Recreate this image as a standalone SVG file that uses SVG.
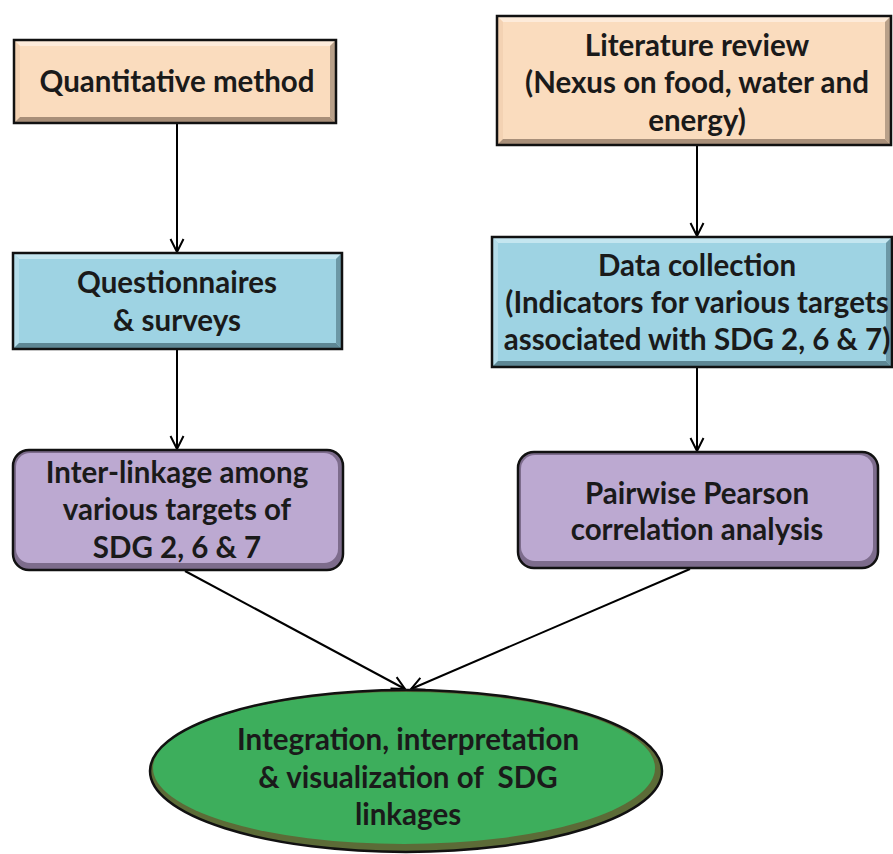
<svg xmlns="http://www.w3.org/2000/svg" width="893" height="854" viewBox="0 0 893 854">
  <defs>
    <style>
      .lbl { font-family: Lato, "Open Sans", "Liberation Sans", sans-serif; font-weight: bold; font-size: 29.5px; fill: #1a1a1a; text-anchor: middle; white-space: pre; }
      .edge { stroke: #000; stroke-width: 2; fill: none; marker-end: url(#arrow); }
      .frame { fill: none; stroke: #111; stroke-width: 2.5; }
    </style>
    <marker id="arrow" viewBox="0 0 16 16" refX="14" refY="8" markerWidth="16" markerHeight="16" markerUnits="userSpaceOnUse" orient="auto">
      <path d="M1,1.5 L14,8 L1,14.5" fill="none" stroke="#000" stroke-width="2"/>
    </marker>
  </defs>
  <rect width="893" height="854" fill="#fff"/>

  <!-- connectors -->
  <g id="connectors">
    <line class="edge" x1="177" y1="124" x2="177" y2="252"/>
    <line class="edge" x1="177" y1="350" x2="177" y2="449"/>
    <line class="edge" x1="697" y1="146" x2="697" y2="236"/>
    <line class="edge" x1="697" y1="368" x2="697" y2="451"/>
    <line class="edge" x1="185" y1="571" x2="405" y2="689"/>
    <line class="edge" x1="690" y1="569" x2="411" y2="689"/>
  </g>

  <!-- bevelled rectangle: Quantitative method -->
  <g id="quantitative-method">
    <rect x="14" y="40" width="322" height="83" fill="#FADCBE"/>
    <polygon points="14,40 336,40 330,46 20,46" fill="#FDEBDA"/>
    <polygon points="14,40 20,46 20,117 14,123" fill="#F3D2B3"/>
    <polygon points="336,40 336,123 330,117 330,46" fill="#B8A089"/>
    <polygon points="14,123 336,123 330,117 20,117" fill="#A88F79"/>
    <rect class="frame" x="14" y="40" width="322" height="83"/>
    <text class="lbl" x="177" y="92">Quantitative method</text>
  </g>

  <g id="literature-review">
    <rect x="497" y="16" width="394" height="129" fill="#FADCBE"/>
    <polygon points="497,16 891,16 885,22 503,22" fill="#FDEBDA"/>
    <polygon points="497,16 503,22 503,139 497,145" fill="#F3D2B3"/>
    <polygon points="891,16 891,145 885,139 885,22" fill="#B8A089"/>
    <polygon points="497,145 891,145 885,139 503,139" fill="#A88F79"/>
    <rect class="frame" x="497" y="16" width="394" height="129"/>
    <text class="lbl" x="697" y="56">Literature review</text>
    <text class="lbl" x="697" y="93">(Nexus on food, water and</text>
    <text class="lbl" x="697" y="131">energy)</text>
  </g>

  <g id="questionnaires">
    <rect x="13" y="253" width="329" height="96" fill="#9ED3E3"/>
    <polygon points="13,253 342,253 336,259 19,259" fill="#C4E6F0"/>
    <polygon points="13,253 19,259 19,343 13,349" fill="#B4DDEA"/>
    <polygon points="342,253 342,349 336,343 336,259" fill="#6C98A6"/>
    <polygon points="13,349 342,349 336,343 19,343" fill="#5E8794"/>
    <rect class="frame" x="13" y="253" width="329" height="96"/>
    <text class="lbl" x="177" y="293">Questionnaires</text>
    <text class="lbl" x="177" y="331">&amp; surveys</text>
  </g>

  <g id="data-collection">
    <rect x="492" y="237" width="400" height="130" fill="#9ED3E3"/>
    <polygon points="492,237 892,237 886,243 498,243" fill="#C4E6F0"/>
    <polygon points="492,237 498,243 498,361 492,367" fill="#B4DDEA"/>
    <polygon points="892,237 892,367 886,361 886,243" fill="#6C98A6"/>
    <polygon points="492,367 892,367 886,361 498,361" fill="#5E8794"/>
    <rect class="frame" x="492" y="237" width="400" height="130"/>
    <text class="lbl" x="697" y="276">Data collection</text>
    <text class="lbl" x="697" y="313">(Indicators for various targets</text>
    <text class="lbl" x="697" y="350">associated with SDG 2, 6 &amp; 7)</text>
  </g>

  <!-- rounded boxes -->
  <g id="inter-linkage">
    <rect x="13" y="450" width="330" height="120" rx="16" fill="#7D6C8C"/>
    <rect x="16" y="453" width="322" height="110" rx="14" fill="#BCA9D1"/>
    <rect class="frame" x="13" y="450" width="330" height="120" rx="16"/>
    <text class="lbl" x="177" y="483">Inter-linkage among</text>
    <text class="lbl" x="177" y="520">various targets of</text>
    <text class="lbl" x="177" y="558">SDG 2, 6 &amp; 7</text>
  </g>

  <g id="pearson-correlation">
    <rect x="518" y="452" width="360" height="116" rx="16" fill="#7D6C8C"/>
    <rect x="521" y="455" width="352" height="106" rx="14" fill="#BCA9D1"/>
    <rect class="frame" x="518" y="452" width="360" height="116" rx="16"/>
    <text class="lbl" x="697" y="504">Pairwise Pearson</text>
    <text class="lbl" x="697" y="540">correlation analysis</text>
  </g>

  <!-- final ellipse -->
  <g id="integration">
    <ellipse cx="406" cy="771" rx="256" ry="81" fill="#5C6B37"/>
    <ellipse cx="404" cy="768" rx="251" ry="76" fill="#3DAE5C"/>
    <ellipse class="frame" cx="406" cy="771" rx="256" ry="81"/>
    <text class="lbl" x="408" y="750">Integration, interpretation</text>
    <text class="lbl" x="408" y="788">&amp; visualization of  SDG</text>
    <text class="lbl" x="408" y="825">linkages</text>
  </g>
</svg>
